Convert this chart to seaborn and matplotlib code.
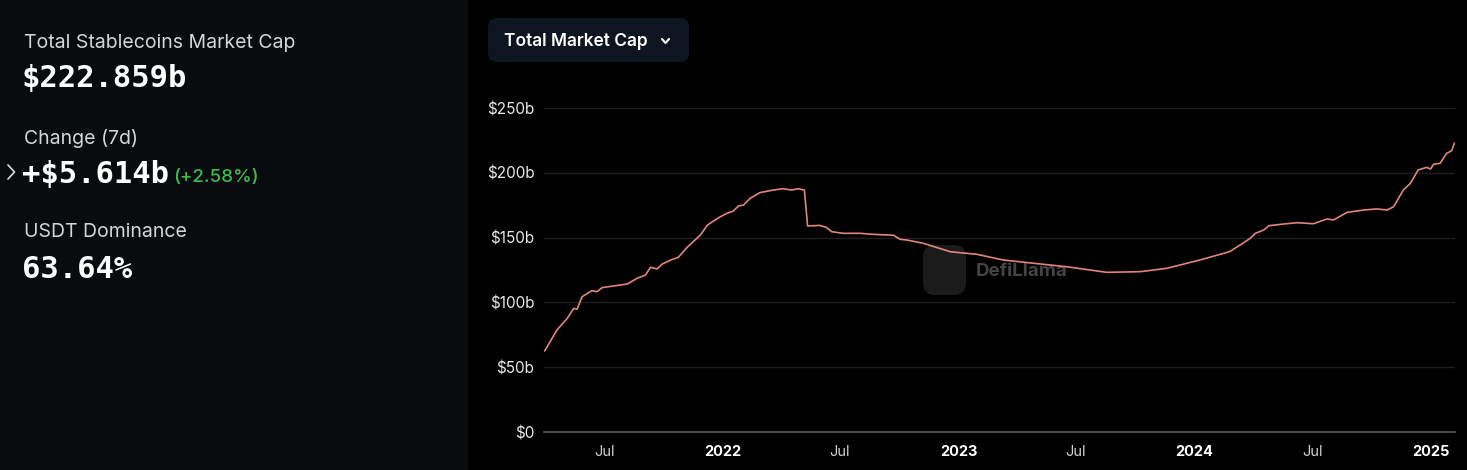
import pandas as pd
import numpy as np
import matplotlib.pyplot as plt
import matplotlib.dates as mdates
from matplotlib.patches import FancyBboxPatch, Rectangle
from matplotlib.lines import Line2D
import seaborn as sns

# --- data (billions of USD) ---
dates = [
    '2021-03-31', '2021-04-19', '2021-05-05', '2021-05-15', '2021-05-20', '2021-05-28',
    '2021-06-12', '2021-06-20', '2021-06-28', '2021-07-16', '2021-08-06', '2021-08-21',
    '2021-09-03', '2021-09-11', '2021-09-21', '2021-09-29', '2021-10-12', '2021-10-24',
    '2021-11-06', '2021-11-27', '2021-12-08', '2021-12-18', '2021-12-28', '2022-01-07',
    '2022-01-17', '2022-01-25', '2022-02-02', '2022-02-12', '2022-02-27', '2022-03-20',
    '2022-04-04', '2022-04-17', '2022-04-27', '2022-05-07', '2022-05-12', '2022-05-31',
    '2022-06-10', '2022-06-18', '2022-07-06', '2022-08-01', '2022-08-22', '2022-09-22',
    '2022-10-02', '2022-10-13', '2022-11-07', '2022-12-19', '2023-01-29', '2023-03-11',
    '2023-04-27', '2023-06-17', '2023-08-18', '2023-10-09', '2023-11-19', '2024-01-09',
    '2024-02-24', '2024-03-17', '2024-03-27', '2024-04-04', '2024-04-17', '2024-04-25',
    '2024-05-18', '2024-06-08', '2024-07-03', '2024-07-24', '2024-08-03', '2024-08-24',
    '2024-09-19', '2024-10-09', '2024-10-25', '2024-11-04', '2024-11-19', '2024-11-30',
    '2024-12-12', '2024-12-25', '2024-12-31', '2025-01-05', '2025-01-15', '2025-01-25',
    '2025-02-02', '2025-02-06',
]
mcap_b = [
    62.5, 78.7, 87.7, 95.4, 94.7, 104.4,
    109.0, 108.3, 111.4, 112.7, 114.2, 118.6,
    121.1, 127.1, 125.8, 129.6, 132.7, 134.8,
    142.2, 152.0, 159.7, 163.0, 166.1, 168.7,
    170.5, 174.4, 175.2, 180.3, 184.7, 186.7,
    187.7, 186.7, 187.7, 186.7, 159.0, 159.4,
    157.9, 154.6, 153.3, 153.3, 152.5, 151.8,
    148.7, 148.1, 145.6, 139.1, 137.1, 132.7,
    130.2, 127.5, 123.2, 123.7, 126.3, 132.7,
    139.1, 146.1, 149.4, 153.3, 155.9, 159.2,
    160.5, 161.5, 160.7, 164.4, 163.6, 169.5,
    171.3, 172.1, 171.3, 173.8, 186.7, 191.9,
    202.2, 204.2, 202.9, 206.6, 207.3, 215.0,
    217.1, 222.8,
]

tick_dates = ['2021-07-01', '2022-01-01', '2022-07-01', '2023-01-01',
              '2023-07-01', '2024-01-01', '2024-07-01', '2025-01-01']
tick_labels = ['Jul', '2022', 'Jul', '2023', 'Jul', '2024', 'Jul', '2025']
y_ticks = [0, 50, 100, 150, 200, 250]
y_labels = ['$0', '$50b', '$100b', '$150b', '$200b', '$250b']

stat_labels = ['Total Stablecoins Market Cap', 'Change (7d)', 'USDT Dominance']
stat_values = ['$222.859b', '+$5.614b', '63.64%']
change_pct = '(+2.58%)'

df = pd.DataFrame({'date': pd.to_datetime(dates), 'mcap': mcap_b})

sns.set_theme(style='dark')
plt.rcParams['font.family'] = ['Inter', 'DejaVu Sans']

W, H = 1467, 470
fig = plt.figure(figsize=(W / 100, H / 100), dpi=100, facecolor='#000000')
inch = fig.dpi_scale_trans


def px(x, y):
    # pixel position (top-left origin) -> inches for dpi_scale_trans
    return x / 100, (H - y) / 100


# left stats panel
fig.patches.append(Rectangle((0, 0), 4.68, 4.70, transform=inch,
                             facecolor='#080c0e', edgecolor='none', zorder=0))
label_y = [43, 138, 232]
value_y = [79, 174, 269]
for lab, val, ly, vy in zip(stat_labels, stat_values, label_y, value_y):
    fig.text(*px(24, ly), lab, transform=inch, va='center', ha='left',
             fontsize=14, color='#d4d6d8')
    fig.text(*px(22, vy), val, transform=inch, va='center', ha='left',
             fontsize=22, color='#ffffff', fontweight='bold',
             family='DejaVu Sans Mono')
fig.text(*px(173, 178), change_pct, transform=inch, va='center', ha='left',
         fontsize=13.5, color='#3fb950', fontweight='medium')
# little chevron next to the change value
fig.lines.append(Line2D([0.08, 0.145, 0.08], [(H - 165) / 100, (H - 172) / 100, (H - 179) / 100],
                        transform=inch, color='#dddddd', lw=1.2))

# dropdown button
fig.patches.append(FancyBboxPatch((4.88, (H - 62) / 100), 2.01, 0.44,
                                  boxstyle='round,pad=0,rounding_size=0.09',
                                  transform=inch, facecolor='#0d1520', edgecolor='none'))
fig.text(*px(504, 41), 'Total Market Cap', transform=inch, va='center', ha='left',
         fontsize=12.5, color='#ffffff', fontweight='semibold')
fig.lines.append(Line2D([6.62, 6.655, 6.69], [(H - 39) / 100, (H - 43) / 100, (H - 39) / 100],
                        transform=inch, color='#ffffff', lw=1.5))

# main chart
left, right, bottom, top = 544, 1455, 432, 108
ax = fig.add_axes([left / W, 1 - bottom / H, (right - left) / W, (bottom - top) / H])
ax.set_facecolor('#000000')

# watermark
ax.add_patch(FancyBboxPatch((9.23, (H - 295) / 100), 0.43, 0.50,
                            boxstyle='round,pad=0,rounding_size=0.12',
                            transform=inch, facecolor='#1b1b1b', edgecolor='none', zorder=0))
ax.text(*px(976, 271), 'DefiLlama', transform=inch, va='center', ha='left',
        fontsize=13.5, color='#444444', fontweight='bold', zorder=0)

sns.lineplot(data=df, x='date', y='mcap', ax=ax, color='#e3857b', linewidth=1.2, zorder=3)

ax.set_xlim(pd.Timestamp('2021-03-30'), pd.Timestamp('2025-02-07'))
ax.set_ylim(0, 250)
ax.set_yticks(y_ticks)
ax.set_yticklabels(y_labels)
ax.set_xticks(pd.to_datetime(tick_dates))
ax.set_xticklabels(tick_labels)
for t, lab in zip(ax.get_xticklabels(), tick_labels):
    if lab != 'Jul':
        t.set_fontweight('bold')
        t.set_color('#ffffff')
    else:
        t.set_color('#d0d0d0')

ax.tick_params(axis='y', length=0, pad=7, labelsize=11, labelcolor='#e8e8e8')
ax.tick_params(axis='x', length=5, width=1, color='#8a8a8a', pad=4, labelsize=10.5)
ax.set_xlabel('')
ax.set_ylabel('')
ax.grid(False)
for yv in y_ticks[1:]:
    ax.axhline(yv, color='#1f1f1f', lw=1, zorder=1)
for s in ['top', 'right', 'left']:
    ax.spines[s].set_visible(False)
ax.spines['bottom'].set_color('#5a5a5a')
ax.spines['bottom'].set_linewidth(1.2)

fig.savefig('out.png', dpi=100, facecolor=fig.get_facecolor())
